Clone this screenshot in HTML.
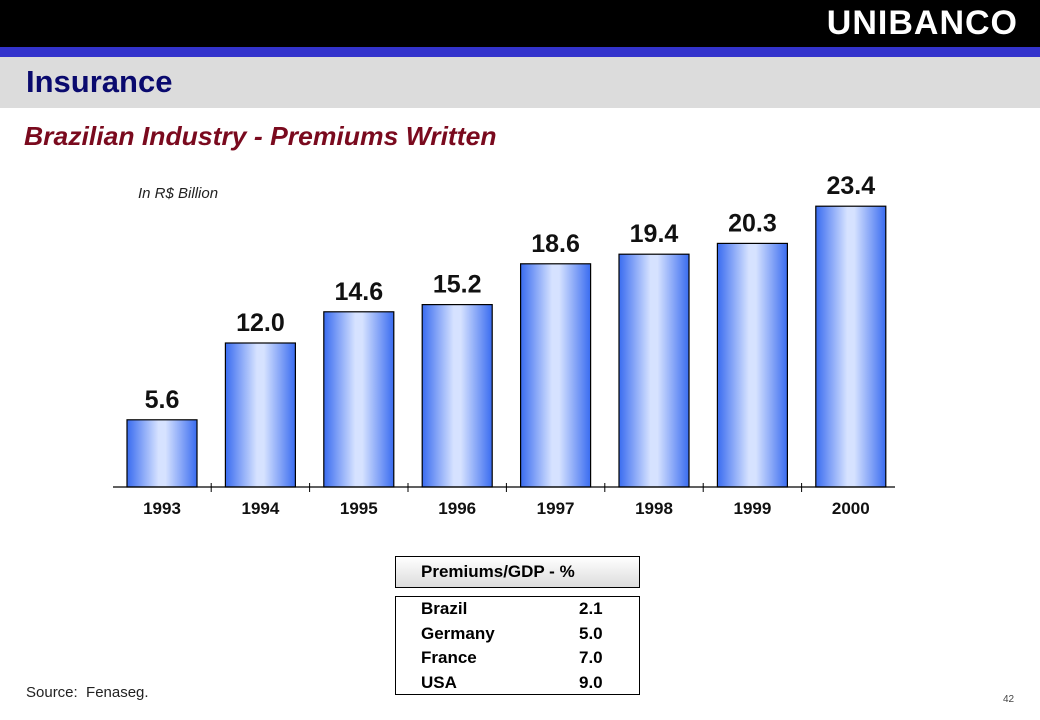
<!DOCTYPE html>
<html><head><meta charset="utf-8"><style>
body{margin:0;width:1040px;height:720px;position:relative;background:#fff;font-family:"Liberation Sans",Arial,sans-serif;overflow:hidden}
.a{position:absolute}
</style></head><body>
<div class="a" style="left:0;top:0;width:1040px;height:47px;background:#000"></div>
<div class="a" style="right:22px;top:4px;color:#fff;font-weight:bold;font-size:34px;letter-spacing:1px">UNIBANCO</div>
<div class="a" style="left:0;top:47px;width:1040px;height:10px;background:#3333cc"></div>
<div class="a" style="left:0;top:57px;width:1040px;height:51px;background:#dcdcdc"></div>
<div class="a" style="left:26px;top:64px;font-size:31px;font-weight:bold;color:#0a0a6e">Insurance</div>
<div class="a" style="left:24px;top:121px;font-size:26px;font-weight:bold;font-style:italic;color:#7a0a1e;transform:scaleX(1.02);transform-origin:left">Brazilian Industry - Premiums Written</div>
<div class="a" style="left:138px;top:185px;font-size:15px;font-style:italic;color:#222">In R$ Billion</div>
<svg class="a" style="left:0;top:0" width="1040" height="720">
<defs><linearGradient id="g" x1="0" x2="1"><stop offset="0" stop-color="#3a6cf0"/><stop offset="0.45" stop-color="#d6e2ff"/><stop offset="0.55" stop-color="#d6e2ff"/><stop offset="1" stop-color="#3a6cf0"/></linearGradient></defs>
<g id="bars"></g>
</svg>
<div class="a" style="left:395px;top:556px;width:243px;height:30px;border:1px solid #000;background:linear-gradient(#fff,#dcdcdc);font-weight:bold;font-size:17px;line-height:30px"><span style="margin-left:25px">Premiums/GDP - %</span></div>
<div class="a" style="left:395px;top:596px;width:243px;height:97px;border:1px solid #000;font-weight:bold;font-size:17px;line-height:24.5px">
<div style="position:absolute;left:25px;top:0">Brazil<br>Germany<br>France<br>USA</div>
<div style="position:absolute;left:183px;top:0">2.1<br>5.0<br>7.0<br>9.0</div></div>
<div class="a" style="left:26px;top:684px;font-size:15px;color:#222">Source:&nbsp; Fenaseg.</div>
<div class="a" style="left:1003px;top:694px;font-size:10px;color:#444">42</div>
<script>
const years=["1993","1994","1995","1996","1997","1998","1999","2000"];
const values=[5.6,12.0,14.6,15.2,18.6,19.4,20.3,23.4];
const labels=["5.6","12.0","14.6","15.2","18.6","19.4","20.3","23.4"];
const NS="http://www.w3.org/2000/svg",g=document.getElementById('bars');
const base=487,k=12.0,x0=162,step=98.4,w=70;
const xs=i=>x0+i*step, ys=v=>base-v*k;
function mk(t,a){const e=document.createElementNS(NS,t);for(const n in a)e.setAttribute(n,a[n]);g.appendChild(e);return e;}
years.forEach((y,i)=>{
 const r=mk('rect',{x:xs(i)-w/2,y:ys(values[i]),width:w,height:base-ys(values[i]),fill:'url(#g)',stroke:'#000','stroke-width':1.2});
 
 
 const t=mk('text',{x:xs(i),y:ys(values[i])-12,'text-anchor':'middle','font-size':25,'font-weight':'bold',fill:'#111'});t.textContent=labels[i];
 
 
 const c=mk('text',{x:xs(i),y:base+27,'text-anchor':'middle','font-size':17,'font-weight':'bold',fill:'#111'});c.textContent=y;
 
 
 if(i<years.length-1){mk('line',{x1:xs(i)+step/2,x2:xs(i)+step/2,y1:base-4,y2:base+5,stroke:'#000'});}
});
const ax=mk('line',{x1:113,x2:895,y1:base,y2:base,stroke:'#000','stroke-width':1.2});


</script>
</body></html>
